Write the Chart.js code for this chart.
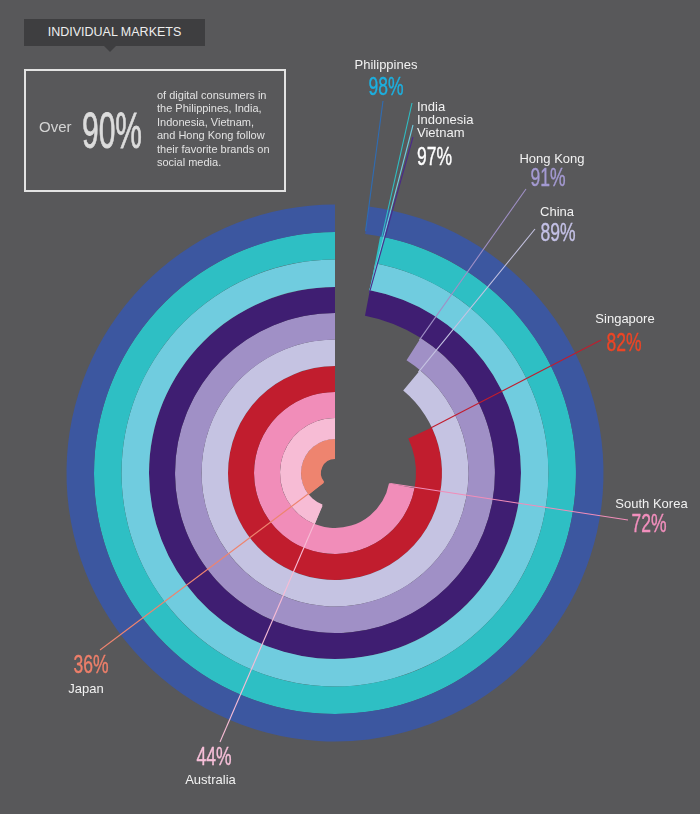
<!DOCTYPE html>
<html>
<head>
<meta charset="utf-8">
<title>Individual Markets</title>
<script src="https://cdn.jsdelivr.net/npm/chart.js@4.4.0/dist/chart.umd.min.js"></script>
<style>
  html, body { margin: 0; padding: 0; background: #58585a; }
  #wrap { position: relative; width: 700px; height: 814px; overflow: hidden;
          font-family: "Liberation Sans", Arial, Helvetica, sans-serif; }
  #chart { position: absolute; left: 0; top: 0; }
  .tag { position: absolute; left: 24px; top: 19px; width: 181px; height: 27px;
         background: #3e3e40; color: #eee; font-size: 12.5px; line-height: 27px; text-align: center; }
  .tag:after { content: ''; position: absolute; left: 80px; top: 27px;
               border-left: 6px solid transparent; border-right: 6px solid transparent; border-top: 6px solid #3e3e40; }
  .callout { position: absolute; left: 24px; top: 69px; width: 258px; height: 119px; border: 2px solid #e3e3e3; }
  .callout .over { position: absolute; left: 13px; top: 48px; font-size: 15px; line-height: 15px; color: #d4d4d4; }
  .callout .big { position: absolute; left: 56px; top: 34.5px; font-size: 50px; line-height: 50px; color: #dcdcdc;
                  -webkit-text-stroke: 0.8px #dcdcdc; transform: scaleX(0.6); transform-origin: 0 50%; }
  .callout .desc { position: absolute; left: 131px; top: 18px; font-size: 11px; line-height: 13.4px; color: #e2e2e2; white-space: nowrap; }
  .name { position: absolute; font-size: 13px; line-height: 13px; color: #f2f2f2; white-space: nowrap; }
  .pct { position: absolute; font-size: 25px; line-height: 25px; white-space: nowrap;
         -webkit-text-stroke: 0.4px currentColor; transform: scaleX(0.7); }
</style>
</head>
<body>
<div id="wrap">
  <canvas id="chart" width="700" height="814"></canvas>
  <div class="tag">INDIVIDUAL MARKETS</div>
  <div class="callout">
    <span class="over">Over</span>
    <span class="big">90%</span>
    <div class="desc">of digital consumers in<br>the Philippines, India,<br>Indonesia, Vietnam,<br>and Hong Kong follow<br>their favorite brands on<br>social media.</div>
  </div>
  <div id="labels"></div>
</div>
<script>
// data
const countries = ['Philippines', 'India', 'Indonesia', 'Vietnam', 'Hong Kong', 'China', 'Singapore', 'South Korea', 'Australia', 'Japan'];
const shares = [98, 97, 97, 97, 91, 89, 82, 72, 44, 36];

// styles
const ringColors = ['#3c57a0', '#2ebfc4', '#70ccdf', '#3f1e72', '#a090c6', '#c5c3e2', '#c11d2e', '#f18db9', '#f7bcd5', '#ee846f'];
const lineColors = ['#2f6cb3', '#2ebfc4', '#70ccdf', '#4a2a8a', '#a090c6', '#c5c3e2', '#c11d2e', '#f18db9', '#f7bcd5', '#ee846f'];
const ringWidths = [27.5, 27.5, 27.5, 26, 26.5, 26.5, 26, 26, 21, 20];

// label layout: where the text sits and where each leader line starts
const callouts = [
  { rings: [0], align: 'center', nameAt: [386, 57.5], pctAt: [386, 73.7], pctColor: '#1cb0e0',
    lines: [{ ring: 0, from: [383, 101], f: 0.1 }] },
  { rings: [1, 2, 3], align: 'left', nameAt: [417, 99.5], pctAt: [417, 143.7], pctColor: '#ffffff',
    lines: [{ ring: 1, at: 3, from: [412, 103], f: 1 },
            { ring: 2, at: 3, from: [413, 125], f: 1 },
            { ring: 3, at: 3, from: [413, 137], f: 0.9 }] },
  { rings: [4], align: 'center', nameAt: [552, 151.5], pctAt: [548, 164.7], pctColor: '#a49ad2',
    lines: [{ ring: 4, from: [526, 189], f: 0.9 }] },
  { rings: [5], align: 'center', nameAt: [557, 204.5], pctAt: [558, 219.7], pctColor: '#c4c1e6',
    lines: [{ ring: 5, from: [535, 229], f: 0.9 }] },
  { rings: [6], align: 'center', nameAt: [625, 311.5], pctAt: [623.5, 329.7], pctColor: '#ee4525',
    lines: [{ ring: 6, from: [601, 340], f: 0.95 }] },
  { rings: [7], align: 'center', nameAt: [651.5, 496.5], pctAt: [649, 510.7], pctColor: '#f28fbd',
    lines: [{ ring: 7, from: [628, 520], f: 0.05 }] },
  { rings: [8], align: 'center', nameAt: [210.5, 772.5], pctAt: [214, 743.7], pctColor: '#f6bfd8',
    lines: [{ ring: 8, from: [220, 742], f: 0.05 }] },
  { rings: [9], align: 'center', nameAt: [86, 681.5], pctAt: [90.5, 651.7], pctColor: '#ee7f6a',
    lines: [{ ring: 9, from: [100, 650], f: 0.05 }] }
];

// text labels
const holder = document.getElementById('labels');
function place(el, at, align) {
    if (align === 'center') {
        el.style.left = (at[0] - 100) + 'px';
        el.style.width = '200px';
        el.style.textAlign = 'center';
    } else {
        el.style.left = at[0] + 'px';
        el.style.transformOrigin = '0 50%';
    }
    el.style.top = at[1] + 'px';
    holder.appendChild(el);
}
callouts.forEach(function(g) {
    const name = document.createElement('div');
    name.className = 'name';
    name.innerHTML = g.rings.map(i => countries[i]).join('<br>');
    place(name, g.nameAt, g.align);

    const pct = document.createElement('div');
    pct.className = 'pct';
    pct.style.color = g.pctColor;
    pct.textContent = shares[g.rings[0]] + '%';
    place(pct, g.pctAt, g.align);
});

// leader lines from the labels to the open end of each ring
const leaderLines = {
    id: 'leaderLines',
    afterDatasetsDraw(chart) {
        const ctx = chart.ctx;
        ctx.save();
        ctx.lineWidth = 1.1;
        callouts.forEach(g => g.lines.forEach(l => {
            const arc = chart.getDatasetMeta(l.ring).data[1];
            const tgt = chart.getDatasetMeta(l.at !== undefined ? l.at : l.ring).data[1];
            const p = arc.getProps(['x', 'y', 'startAngle']);
            const q = tgt.getProps(['innerRadius', 'outerRadius']);
            const r = q.innerRadius + (q.outerRadius - q.innerRadius) * l.f;
            ctx.strokeStyle = lineColors[l.ring];
            ctx.beginPath();
            ctx.moveTo(l.from[0], l.from[1]);
            ctx.lineTo(p.x + Math.cos(p.startAngle) * r, p.y + Math.sin(p.startAngle) * r);
            ctx.stroke();
        }));
        ctx.restore();
    }
};

const ctx = document.getElementById('chart').getContext('2d');
const chart = new Chart(ctx, {
    type: 'doughnut',
    data: {
        labels: ['rest', 'share'],
        datasets: countries.map((c, i) => ({
            label: c,
            data: [100 - shares[i], shares[i]],
            backgroundColor: ['rgba(0,0,0,0)', ringColors[i]],
            borderWidth: 0,
            hoverOffset: 0,
            offset: 0,
            weight: ringWidths[i]
        }))
    },
    options: {
        responsive: false,
        animation: false,
        events: [],
        cutout: 14,
        rotation: 0,
        spacing: 0,
        layout: { padding: { left: 66.5, right: 96.5, top: 204.5, bottom: 72.5 } },
        plugins: { legend: { display: false }, tooltip: { enabled: false } }
    },
    plugins: [leaderLines]
});
</script>
</body>
</html>
